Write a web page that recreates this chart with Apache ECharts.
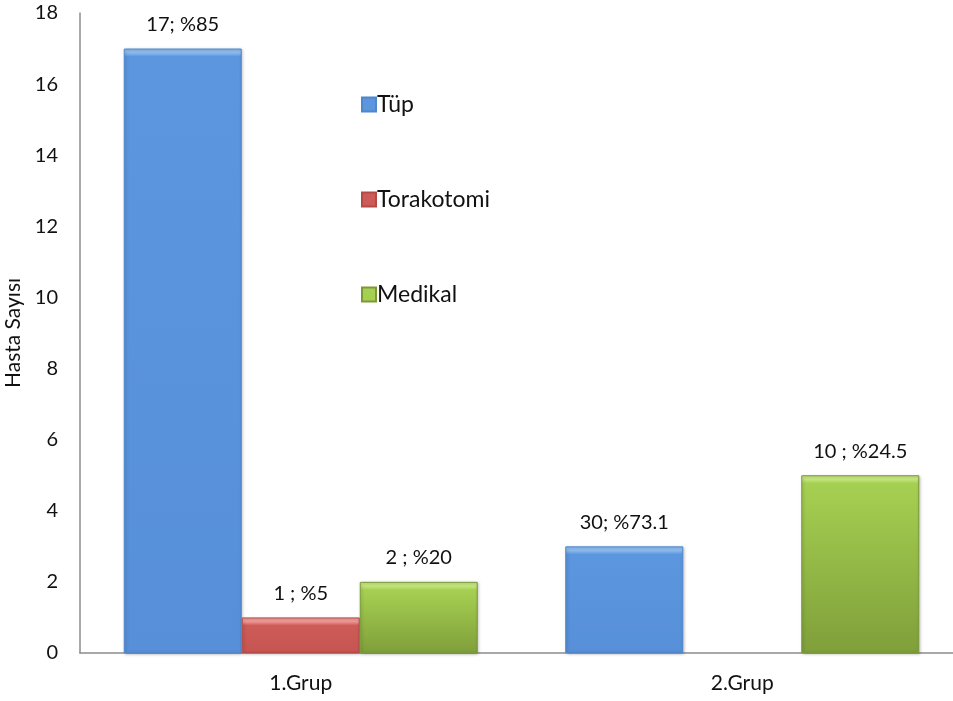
<!DOCTYPE html>
<html>
<head>
<meta charset="utf-8">
<script src="https://cdn.jsdelivr.net/npm/echarts@6/dist/echarts.min.js"></script>
<style>
  html, body { margin: 0; padding: 0; background: #fff; overflow: hidden; }
  #chart { width: 953px; height: 701px; }
</style>
</head>
<body>
<div id="chart"></div>
<script>
// Groups and treatment counts
const categories = ['1.Grup', '2.Grup'];
const tupValues = [17, 3];
const torakotomiValues = [1, null];
const medikalValues = [2, 5];

// Label text shown above each bar
const tupLabels = ['17; %85', '30; %73.1'];
const torakotomiLabels = ['1 ; %5', ''];
const medikalLabels = ['2 ; %20', '10 ; %24.5'];

const FONT = 'Lato, "Open Sans", sans-serif';
const PLOT_HEIGHT = 640;
const Y_MAX = 18;

// Vertical fill with a thin bright bevel along the top edge of each bar
function bevelFill(value, bevel, top, bottom) {
  const px = value / Y_MAX * PLOT_HEIGHT;
  const f = Math.min(0.4, 8 / px);
  return new echarts.graphic.LinearGradient(0, 0, 0, 1, [
    { offset: 0, color: bevel },
    { offset: f * 0.5, color: bevel },
    { offset: f, color: top },
    { offset: 1, color: bottom }
  ]);
}

function makeSeries(name, values, labels, colors) {
  return {
    name: name,
    type: 'bar',
    data: values.map(function (v) {
      if (v == null) return null;
      return {
        value: v,
        itemStyle: { color: bevelFill(v, colors[0], colors[1], colors[2]) }
      };
    }),
    barWidth: 118,
    barGap: '0%',
    itemStyle: {
      color: colors[1],
      borderColor: colors[3],
      borderWidth: 1,
      shadowColor: 'rgba(0,0,0,0.25)',
      shadowBlur: 3,
      shadowOffsetX: 1,
      shadowOffsetY: 1
    },
    label: {
      show: true,
      position: 'top',
      distance: 14,
      color: '#111',
      fontFamily: FONT,
      fontSize: 20,
      formatter: function (p) { return labels[p.dataIndex]; }
    },
    emphasis: { disabled: true }
  };
}

const chart = echarts.init(document.getElementById('chart'), null, { renderer: 'canvas' });

chart.setOption({
  animation: false,
  backgroundColor: '#ffffff',
  grid: {
    left: 80, top: 13, width: 883, height: PLOT_HEIGHT,
    containLabel: false,
    outerBoundsMode: 'none'
  },
  legend: {
    orient: 'vertical',
    left: 356,
    top: 88,
    itemWidth: 14,
    itemHeight: 14,
    itemGap: 72,
    icon: 'rect',
    textStyle: { fontFamily: FONT, fontSize: 23, color: '#111', padding: [0, 0, 0, -4] },
    data: ['Tüp', 'Torakotomi', 'Medikal']
  },
  xAxis: {
    type: 'category',
    data: categories,
    axisLine: { show: true, lineStyle: { color: '#8c8c8c', width: 1.5 } },
    axisTick: { show: false },
    axisLabel: { color: '#111', fontFamily: FONT, fontSize: 21, margin: 20 },
    splitLine: { show: false }
  },
  yAxis: {
    type: 'value',
    min: 0,
    max: Y_MAX,
    interval: 2,
    name: 'Hasta Sayısı',
    nameLocation: 'middle',
    nameGap: 53,
    nameRotate: 90,
    nameTextStyle: { fontFamily: FONT, fontSize: 21, color: '#111' },
    axisLine: { show: true, lineStyle: { color: '#8c8c8c', width: 1.5 } },
    axisTick: { show: false },
    axisLabel: { color: '#111', fontFamily: FONT, fontSize: 20, margin: 22 },
    splitLine: { show: false }
  },
  series: [
    makeSeries('Tüp', tupValues, tupLabels, ['#8fbcf0', '#5b96de', '#5790d8', '#4f86cc']),
    makeSeries('Torakotomi', torakotomiValues, torakotomiLabels, ['#ef9a97', '#cd5b58', '#c65552', '#b34a47']),
    makeSeries('Medikal', medikalValues, medikalLabels, ['#c6e680', '#a6d052', '#7f9f3a', '#7a9a36'])
  ],
  color: ['#5b96de', '#cd5b58', '#9bc44a']
});
</script>
</body>
</html>
